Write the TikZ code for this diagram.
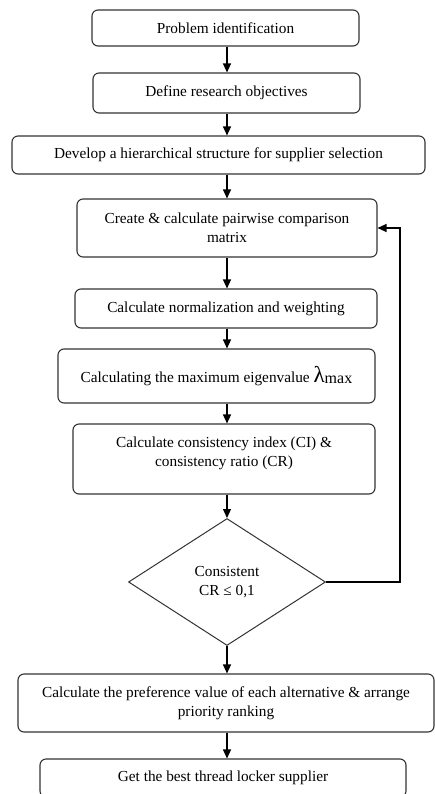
\documentclass[tikz,border=0pt]{standalone}
\usepackage{fontspec}
\setmainfont{Liberation Serif}
\usetikzlibrary{shapes.geometric,arrows.meta}
\begin{document}
\begin{tikzpicture}[x=1pt,y=-1pt,
  stepbox/.style={draw=black!80,line width=1.1pt,rounded corners=6pt,inner sep=0pt,align=center,font=\fontsize{15.3}{19}\selectfont},
  decision/.style={draw=black!80,line width=1pt,diamond,inner sep=0pt,align=center,font=\fontsize{15.3}{19}\selectfont},
  arr/.style={draw=black,line width=1.2pt,-{Triangle[length=9pt,width=8pt]}}]
\useasboundingbox (0,0) rectangle (435,794);
\node[stepbox,minimum width=267pt,minimum height=36pt] (b1) at (225.5,28) {Problem identification};
\node[stepbox,minimum width=267pt,minimum height=40pt] (b2) at (226.5,93) {Define research objectives};
\node[stepbox,minimum width=413pt,minimum height=38pt] (b3) at (218.5,155) {Develop a hierarchical structure for supplier selection};
\node[stepbox,minimum width=300pt,minimum height=58pt] (b4) at (227,228) {Create \& calculate pairwise comparison\\matrix};
\node[stepbox,minimum width=302pt,minimum height=39pt] (b5) at (226,308.5) {Calculate normalization and weighting};
\node[stepbox,minimum width=317pt,minimum height=54pt] (b6) at (216.5,376) {\raisebox{-4pt}{Calculating the maximum eigenvalue {\fontsize{23}{23}\selectfont λ}\raisebox{-1pt}{\fontsize{16}{16}\selectfont max}}};
\node[stepbox,minimum width=302pt,minimum height=70pt] (b7) at (224,459) {Calculate consistency index (CI) \&\\consistency ratio (CR)\\[-5pt]\mbox{}};
\node[decision,minimum width=197pt,minimum height=127pt] (dia) at (227,582) {Consistent\\CR ≤ 0,1};
\node[stepbox,minimum width=416pt,minimum height=58pt] (b8) at (226,703) {Calculate the preference value of each alternative \& arrange\\priority ranking};
\node[stepbox,minimum width=366pt,minimum height=38pt] (b9) at (223,778) {Get the best thread locker supplier};
\coordinate (spine) at (227,0);
\coordinate (loop) at (400,582);
\draw[arr] (b1.south -| spine) -- (b2.north -| spine);
\draw[arr] (b2.south -| spine) -- (b3.north -| spine);
\draw[arr] (b3.south -| spine) -- (b4.north -| spine);
\draw[arr] (b4.south -| spine) -- (b5.north -| spine);
\draw[arr] (b5.south -| spine) -- (b6.north -| spine);
\draw[arr] (b6.south -| spine) -- (b7.north -| spine);
\draw[arr] (b7.south -| spine) -- (dia.north);
\draw[arr] (dia.south) -- (b8.north -| dia.south);
\draw[arr] (b8.south -| dia.south) -- (b9.north -| dia.south);
\draw[arr] (dia.east) -- (loop) |- (b4.east);
\end{tikzpicture}
\end{document}
